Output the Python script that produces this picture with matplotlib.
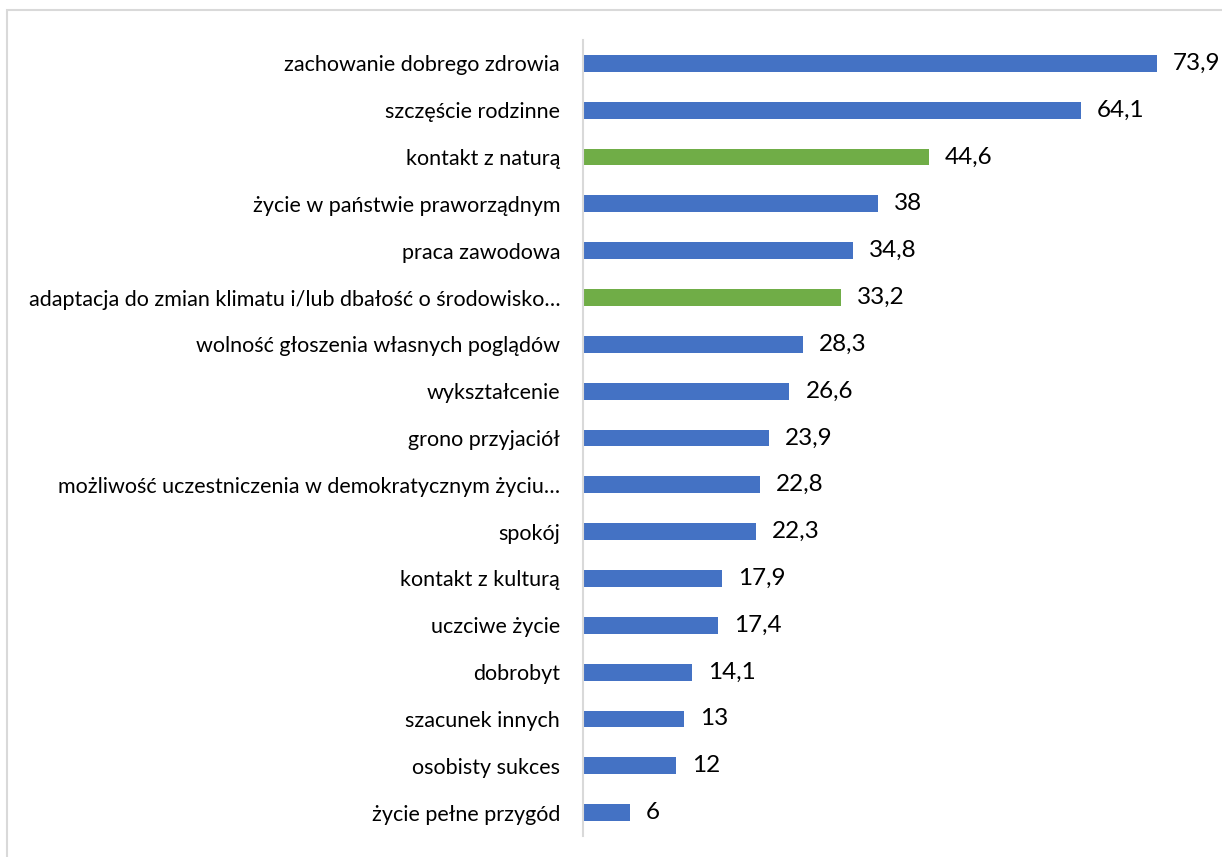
import matplotlib
matplotlib.use("Agg")
import matplotlib.pyplot as plt
from matplotlib.patches import Rectangle

categories = [
    "zachowanie dobrego zdrowia",
    "szczęście rodzinne",
    "kontakt z naturą",
    "życie w państwie praworządnym",
    "praca zawodowa",
    "adaptacja do zmian klimatu i/lub dbałość o środowisko…",
    "wolność głoszenia własnych poglądów",
    "wykształcenie",
    "grono przyjaciół",
    "możliwość uczestniczenia w demokratycznym życiu…",
    "spokój",
    "kontakt z kulturą",
    "uczciwe życie",
    "dobrobyt",
    "szacunek innych",
    "osobisty sukces",
    "życie pełne przygód",
]
values = [73.9, 64.1, 44.6, 38, 34.8, 33.2, 28.3, 26.6, 23.9, 22.8, 22.3, 17.9, 17.4, 14.1, 13, 12, 6]
highlight = ["kontakt z naturą", "adaptacja do zmian klimatu i/lub dbałość o środowisko…"]

blue = "#4472C4"
green = "#70AD47"
colors = [green if c in highlight else blue for c in categories]

plt.rcParams["font.family"] = ["Lato", "DejaVu Sans"]

fig = plt.figure(figsize=(12.22, 8.57), dpi=100)
ax = fig.add_axes([583 / 1222, 1 - 836 / 857, (1204 - 583) / 1222, 796 / 857])

ypos = list(range(len(categories)))
ax.barh(ypos, values, height=0.36, color=colors)
ax.set_ylim(len(categories) - 0.5, -0.5)
ax.set_xlim(0, 80)

ax.set_yticks(ypos)
ax.set_yticklabels(categories, fontsize=15.5, color="#000000")
ax.tick_params(axis="y", length=0, pad=16.5)
ax.set_xticks([])

for s in ["top", "right", "bottom"]:
    ax.spines[s].set_visible(False)
ax.spines["left"].set_color("#d9d9d9")
ax.spines["left"].set_linewidth(1.5)

for y, v in zip(ypos, values):
    txt = ("%g" % v).replace(".", ",")
    ax.annotate(txt, (v, y), xytext=(11.5, 0), textcoords="offset points",
                va="center", ha="left", fontsize=17.5, color="#000000")

# chart border
fig.patches.append(Rectangle((7 / 1222, -0.05), 1.2, 1.05 - 10 / 857,
                             transform=fig.transFigure, fill=False,
                             edgecolor="#d9d9d9", linewidth=1.5))

fig.savefig("out.png", dpi=100, facecolor="white")
